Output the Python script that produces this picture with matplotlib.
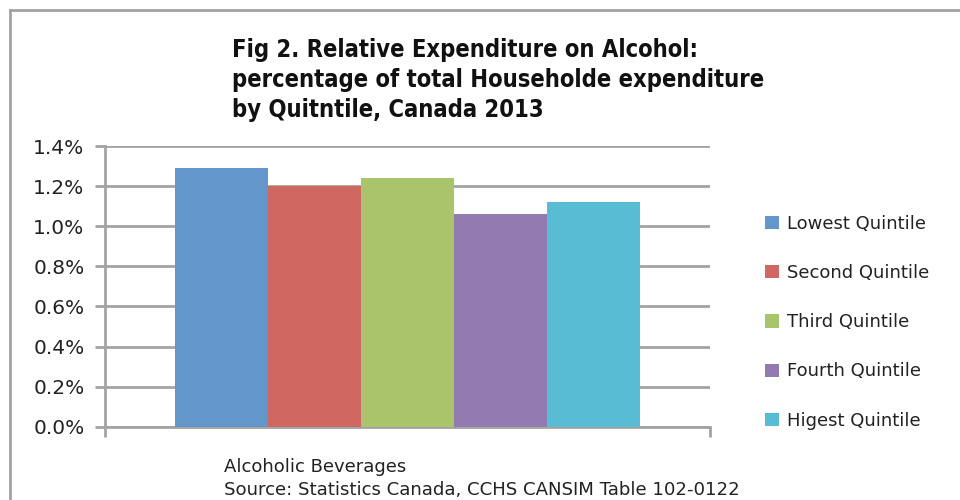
import numpy as np
import matplotlib
matplotlib.use('Agg')
import matplotlib.pyplot as plt
from matplotlib.lines import Line2D
from matplotlib.ticker import FuncFormatter
from matplotlib import font_manager

# relative expenditure on alcohol by income quintile (% of total)
quintiles = ['Lowest Quintile', 'Second Quintile', 'Third Quintile',
             'Fourth Quintile', 'Higest Quintile']
values = [1.29, 1.20, 1.24, 1.06, 1.12]
colors = ['#6396CB', '#CF6860', '#AAC46C', '#917BB1', '#58BCD4']
category = 'Alcoholic Beverages'
yticks = [0.0, 0.2, 0.4, 0.6, 0.8, 1.0, 1.2, 1.4]

grey = '#a3a3a3'
plt.rcParams['font.family'] = ['DejaVu Sans']

# condensed bold face for the heading, if there is one
names = set(f.name for f in font_manager.fontManager.ttflist)
title_font = font_manager.FontProperties(family='DejaVu Sans', weight='bold',
                                         stretch='condensed', size=17)
for fam in ['Liberation Sans Narrow', 'DejaVu Sans Condensed']:
    if fam in names:
        title_font = font_manager.FontProperties(family=fam, weight='bold',
                                                 size=17)
        break

fig = plt.figure(figsize=(9.6, 5), dpi=100)
ax = fig.add_axes([0.1097, 0.1466, 0.630, 0.5614])

n = len(values)
w = 0.769 / n
x0 = -0.769 / 2 + w / 2
for i, (v, c, lab) in enumerate(zip(values, colors, quintiles)):
    ax.bar(x0 + i * w, v, width=w, color=c, label=lab, zorder=3)

ax.set_xlim(-0.5, 0.5)
ax.set_ylim(0, 1.4)
ax.set_yticks(yticks)
ax.yaxis.set_major_formatter(FuncFormatter(lambda v, p: '%.1f%%' % v))
ax.set_xticks([-0.5, 0.5])
ax.set_xticklabels(['', ''])
ax.tick_params(axis='y', length=7, width=2, color=grey, labelsize=14.5, pad=8,
               labelcolor='#222222')
ax.tick_params(axis='x', length=7, width=2, color=grey)
ax.grid(axis='y', color=grey, linewidth=2, zorder=0)
for s in ['top', 'right']:
    ax.spines[s].set_visible(False)
for s in ['left', 'bottom']:
    ax.spines[s].set_color(grey)
    ax.spines[s].set_linewidth(2)

# legend down the right side
handles, labels = ax.get_legend_handles_labels()
fig.legend(handles, labels, loc='upper left', bbox_to_anchor=(0.78, 0.603),
           frameon=False, fontsize=13, handlelength=0.75, handleheight=0.75,
           handletextpad=0.45, labelspacing=1.73, labelcolor='#222222')

fig.text(0.2417, 0.925,
         'Fig 2. Relative Expenditure on Alcohol:\n'
         'percentage of total Householde expenditure\n'
         'by Quitntile, Canada 2013',
         ha='left', va='top', fontproperties=title_font, linespacing=1.33,
         color='#111111')

fig.text(0.233, 0.066, category, fontsize=13, color='#222222', va='center')
fig.text(0.233, 0.02, 'Source: Statistics Canada, CCHS CANSIM Table 102-0122',
         fontsize=13.1, color='#222222', va='center')

# outer frame (left and top edges)
fig.add_artist(Line2D([10 / 960, 10 / 960], [0, 1 - 9.5 / 500],
                      transform=fig.transFigure, color=grey, linewidth=2))
fig.add_artist(Line2D([10 / 960, 1], [1 - 9.5 / 500, 1 - 9.5 / 500],
                      transform=fig.transFigure, color=grey, linewidth=2))

fig.savefig('out.png', dpi=100)
